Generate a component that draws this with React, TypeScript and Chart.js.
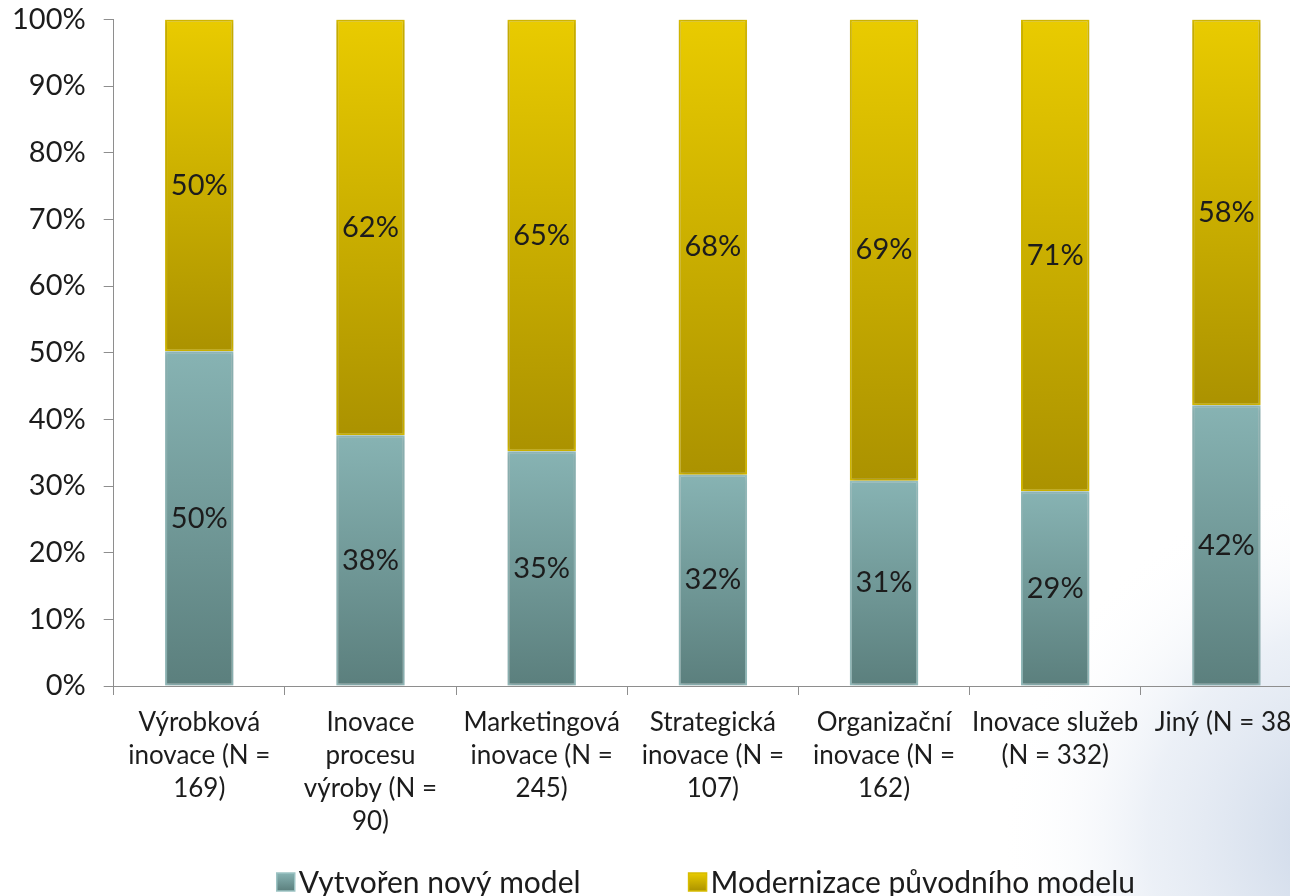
import React, { useEffect, useRef } from "react";
import { Chart, registerables } from "chart.js";

Chart.register(...registerables);

const categories: string[][] = [
  ["Výrobková", "inovace (N =", "169)"],
  ["Inovace", "procesu", "výroby (N =", "90)"],
  ["Marketingová", "inovace (N =", "245)"],
  ["Strategická", "inovace (N =", "107)"],
  ["Organizační", "inovace (N =", "162)"],
  ["Inovace služeb", "(N = 332)"],
  ["Jiný (N = 38)"],
];
const newModel = [50.2, 37.6, 35.2, 31.7, 30.8, 29.2, 42.1];
const modernized = [49.8, 62.4, 64.8, 68.3, 69.2, 70.8, 57.9];
const seriesNames = ["Vytvořen nový model", "Modernizace původního modelu"];
const yMax = 100;
const yStep = 10;

const FONT = 'Lato, "Open Sans", "Liberation Sans", sans-serif';

const TEAL_TOP = "#87b3b3";
const TEAL_BOTTOM = "#5b7f7d";
const GOLD_TOP = "#e9cb00";
const GOLD_BOTTOM = "#ab9200";

const SHIFT = 16;

function segGradient(chart: any, from: number, to: number, c1: string, c2: string, fallback: string) {
  const y = chart.scales && chart.scales.y;
  if (!y) return fallback;
  const top = y.getPixelForValue(to);
  const bottom = y.getPixelForValue(from);
  if (!isFinite(top) || !isFinite(bottom) || top === bottom) return fallback;
  const g = chart.ctx.createLinearGradient(0, top, 0, bottom);
  g.addColorStop(0, c1);
  g.addColorStop(1, c2);
  return g;
}

const bgPlugin = {
  id: "bgWatermark",
  beforeDraw(chart: any) {
    const { ctx, width, height } = chart;
    ctx.save();
    ctx.fillStyle = "#ffffff";
    ctx.fillRect(0, 0, width, height);
    const g = ctx.createRadialGradient(1360, 840 + SHIFT, 30, 1360, 840 + SHIFT, 360);
    g.addColorStop(0, "rgba(200,212,230,0.9)");
    g.addColorStop(0.55, "rgba(220,228,240,0.55)");
    g.addColorStop(1, "rgba(255,255,255,0)");
    ctx.fillStyle = g;
    ctx.fillRect(0, 0, width, height);
    ctx.restore();
  },
};

const shadowPlugin = {
  id: "barShadow",
  beforeDatasetsDraw(chart: any) {
    const ctx = chart.ctx;
    ctx.save();
    ctx.shadowColor = "rgba(0,0,0,0.22)";
    ctx.shadowBlur = 5;
    ctx.shadowOffsetX = 0;
    ctx.shadowOffsetY = 1;
  },
  afterDatasetsDraw(chart: any) {
    chart.ctx.restore();
  },
};

const labelPlugin = {
  id: "segLabels",
  afterDatasetsDraw(chart: any) {
    const ctx = chart.ctx;
    ctx.save();
    ctx.font = `29px ${FONT}`;
    ctx.fillStyle = "#1c1c1c";
    ctx.textAlign = "center";
    ctx.textBaseline = "middle";
    chart.data.datasets.forEach((ds: any, di: number) => {
      const meta = chart.getDatasetMeta(di);
      meta.data.forEach((el: any, i: number) => {
        const p = el.getProps(["x", "y", "base"], true);
        const v = ds.data[i];
        ctx.fillText(Math.round(v) + "%", p.x, (p.y + p.base) / 2);
      });
    });
    ctx.restore();
  },
};

const legendPlugin = {
  id: "customLegend",
  afterDraw(chart: any) {
    const ctx = chart.ctx;
    const area = chart.chartArea;
    ctx.save();
    ctx.font = `30px ${FONT}`;
    ctx.textBaseline = "middle";
    ctx.textAlign = "left";
    const box = 18;
    const boxGap = 4;
    const itemGap = 108;
    const widths = seriesNames.map((n) => box + boxGap + ctx.measureText(n).width);
    const total = widths[0] + itemGap + widths[1];
    const cy = 882 + SHIFT;
    let x = (area.left + area.right) / 2 - 7 - total / 2;
    const cols = [
      [TEAL_TOP, TEAL_BOTTOM, "#9cc3c3"],
      [GOLD_TOP, GOLD_BOTTOM, "#d8bc00"],
    ];
    seriesNames.forEach((n, i) => {
      const g = ctx.createLinearGradient(0, cy - box / 2, 0, cy + box / 2);
      g.addColorStop(0, cols[i][0]);
      g.addColorStop(1, cols[i][1]);
      ctx.fillStyle = g;
      ctx.fillRect(x, cy - box / 2, box, box);
      ctx.strokeStyle = cols[i][2];
      ctx.lineWidth = 1.5;
      ctx.strokeRect(x, cy - box / 2, box, box);
      ctx.fillStyle = "#1c1c1c";
      ctx.fillText(n, x + box + boxGap, cy + 1);
      x += widths[i] + itemGap;
    });
    ctx.restore();
  },
};

export default function App() {
  const ref = useRef<HTMLCanvasElement | null>(null);

  useEffect(() => {
    if (!ref.current) return;
    const chart = new Chart(ref.current, {
      type: "bar",
      data: {
        labels: categories,
        datasets: [
          {
            label: seriesNames[0],
            data: newModel,
            backgroundColor: (c: any) =>
              segGradient(c.chart, 0, newModel[c.dataIndex] ?? 0, TEAL_TOP, TEAL_BOTTOM, "#76a1a0"),
            borderColor: "#97c0c0",
            borderWidth: 2,
            borderSkipped: false,
          },
          {
            label: seriesNames[1],
            data: modernized,
            backgroundColor: (c: any) =>
              segGradient(c.chart, newModel[c.dataIndex] ?? 0, yMax, GOLD_TOP, GOLD_BOTTOM, "#cdb000"),
            borderColor: "#d9bd00",
            borderWidth: 2,
            borderSkipped: false,
          },
        ],
      },
      options: {
        animation: false,
        responsive: true,
        maintainAspectRatio: false,
        layout: { padding: { left: -6, top: 0, right: 0, bottom: 47 } },
        datasets: { bar: { barPercentage: 0.4, categoryPercentage: 1 } } as any,
        plugins: {
          legend: { display: false },
          tooltip: { enabled: false },
        },
        scales: {
          x: {
            stacked: true,
            grid: {
              display: true,
              drawOnChartArea: false,
              drawTicks: true,
              tickLength: 9,
              color: "#8e8e8e",
              offset: true,
            },
            border: { display: true, color: "#8e8e8e", width: 1 },
            ticks: {
              color: "#1c1c1c",
              font: { family: FONT, size: 26, lineHeight: 33 / 26 },
              padding: 11,
              maxRotation: 0,
              autoSkip: false,
            },
          },
          y: {
            stacked: true,
            min: 0,
            max: yMax,
            grid: {
              display: true,
              drawOnChartArea: false,
              drawTicks: true,
              tickLength: 10,
              color: "#8e8e8e",
            },
            border: { display: true, color: "#8e8e8e", width: 1 },
            ticks: {
              stepSize: yStep,
              color: "#1c1c1c",
              font: { family: FONT, size: 29 },
              padding: 18,
              callback: (v: any) => v + "%",
            },
          },
        },
      },
      plugins: [bgPlugin, shadowPlugin, labelPlugin, legendPlugin],
    });
    return () => chart.destroy();
  }, []);

  return (
    <div
      style={{
        position: "fixed",
        left: 0,
        top: 0,
        width: 1290,
        height: 896,
        overflow: "hidden",
        background: "#fff",
      }}
    >
      <div style={{ position: "absolute", left: 0, top: -SHIFT, width: 1312, height: 896 + SHIFT }}>
        <canvas ref={ref} />
      </div>
    </div>
  );
}
